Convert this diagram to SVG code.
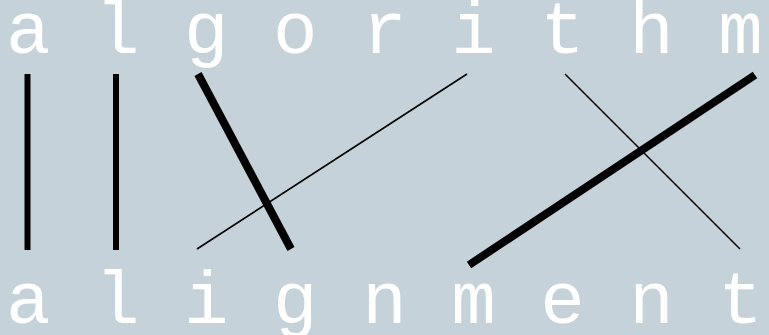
<svg xmlns="http://www.w3.org/2000/svg" width="769" height="335" viewBox="0 0 769 335">
<style>
.t{font-family:"Courier New","Nimbus Mono PS","FreeMono","Liberation Mono",monospace;font-size:74.2px;fill:#ffffff}
.thin{stroke:#000;stroke-width:1.6;fill:none}
.mid{stroke:#000;stroke-width:6;fill:none}
.thick{stroke:#000;stroke-width:8;fill:none}
</style>
<rect width="769" height="335" fill="#c6d2d9"/>
<g id="top-word"><text class="t" x="6" y="53">a l g o r i t h m</text></g>
<g id="bottom-word"><text class="t" x="6" y="323">a l i g n m e n t</text></g>
<g id="connectors">
<line class="mid" x1="27.5" y1="74" x2="27.5" y2="250"/>
<line class="mid" x1="116" y1="74" x2="116" y2="250"/>
<line class="thick" x1="198" y1="74" x2="291" y2="249"/>
<line class="thin" x1="197" y1="249" x2="467" y2="74"/>
<line class="thin" x1="565" y1="74" x2="740" y2="249"/>
<line class="thick" x1="469" y1="265" x2="755" y2="75"/>
</g>
</svg>
